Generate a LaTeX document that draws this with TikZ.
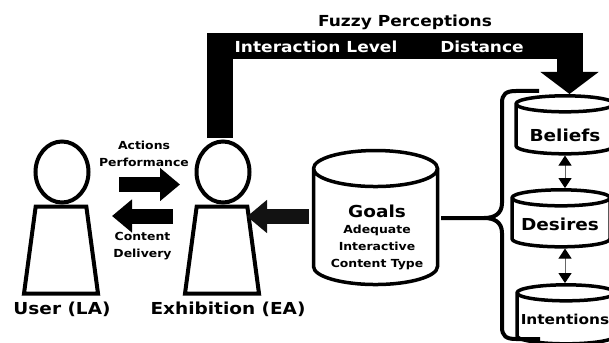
\documentclass[tikz,border=0pt]{standalone}
\usepackage{fontspec}
\setmainfont[FakeStretch=1.12]{DejaVu Sans}
\usetikzlibrary{arrows.meta,shapes.geometric}
\tikzset{
  head/.style={draw,fill=white,ellipse,line width=4pt,inner sep=0pt,minimum width=53pt,minimum height=61pt},
  body/.style={draw,fill=white,trapezium,trapezium stretches=true,trapezium left angle=77,trapezium right angle=77,line width=4pt,inner sep=1pt,minimum width=74pt,minimum height=87pt},
  store/.style={draw,fill=white,cylinder,shape border rotate=90,line width=3.5pt,inner sep=1pt},
  fatarrow/.style={line width=15pt,-{Triangle[length=20pt,width=32pt]}},
  thinarrow/.style={draw=black!60,line width=1pt,{Triangle[length=10pt,width=13pt,black]}-{Triangle[length=10pt,width=13pt,black]}},
  caption/.style={font=\fontsize{16.5}{17}\selectfont\bfseries},
  small/.style={font=\fontsize{11.1}{17}\selectfont\bfseries,align=center}
}
\begin{document}
\begin{tikzpicture}[x=1pt,y=-1pt]
  \useasboundingbox (0,0) rectangle (609,342);
  \clip (0,0) rectangle (609,342);
  \path (61,250) node[body] (userbody) {};
  \path (62,172) node[head] (userhead) {};
  \path (222,250) node[body] (exbody) {};
  \path (223,172) node[head] (exhead) {};
  \path (62,309) node[caption] (userlabel) {User (LA)};
  \path (228,309) node[caption] (exlabel) {Exhibition (EA)};
  \path (375.5,229) node[store,minimum width=124pt,minimum height=134pt,shape aspect=18] (goals) {};
  \path (377,211) node[caption] (goalslabel) {Goals};
  \path (377,247) node[small] (goalstext) {Adequate\\Interactive\\Content Type};
  \path (565,130.5) node[store,minimum width=98pt,minimum height=58pt,shape aspect=8] (beliefs) {};
  \path (565,135) node[caption] (beliefslabel) {Beliefs};
  \path (561,224) node[store,minimum width=98pt,minimum height=57pt,shape aspect=8] (desires) {};
  \path (560,224) node[caption] (desireslabel) {Desires};
  \path (566,320) node[store,minimum width=98pt,minimum height=59pt,shape aspect=8] (intentions) {};
  \path (565,319) node[font=\fontsize{13.7}{14}\selectfont\bfseries] (intentionslabel) {Intentions};
  \coordinate (actionsfrom) at (119,184.5);
  \coordinate (actionsto) at (180,184.5);
  \coordinate (deliveryfrom) at (173,216);
  \coordinate (deliveryto) at (112,216);
  \coordinate (goalsfrom) at (309,216.5);
  \coordinate (goalsto) at (247,216.5);
  \coordinate (perceptfrom) at (220,138);
  \coordinate (perceptto) at (569.5,94);
  \coordinate (bracestem) at (441,218);
  \draw[fatarrow] (actionsfrom)--(actionsto);
  \draw[fatarrow] (deliveryfrom)--(deliveryto);
  \draw[fatarrow,black!93] (goalsfrom)--(goalsto);
  \draw[line width=26pt,-{Triangle[length=22pt,width=57pt]}] (perceptfrom)--(220,46.5)--(569.5,46.5)--(perceptto);
  \draw[thinarrow] (beliefs.south)--(beliefs.south |- desires.north);
  \draw[thinarrow] (beliefs.south |- desires.south)--(beliefs.south |- intentions.north);
  \draw[line width=4pt] (539,91)--(516,91) .. controls (506,91) and (502,94) .. (502,103)--(502,203)
    .. controls (502,214) and (494,218) .. (484,218)--(bracestem);
  \draw[line width=4pt] (484,218) .. controls (494,218) and (502,222) .. (502,233)--(502,327)
    .. controls (502,336) and (506,339) .. (516,339)--(540,339);
  \path (405,22) node[font=\fontsize{15.2}{17}\selectfont\bfseries] (fuzzylabel) {Fuzzy Perceptions};
  \path (316,47) node[font=\fontsize{15.2}{17}\selectfont\bfseries,text=white] (levellabel) {Interaction Level};
  \path (482,47) node[font=\fontsize{15.2}{17}\selectfont\bfseries,text=white] (distlabel) {Distance};
  \path (144,153.5) node[small] (actionslabel) {Actions\\Performance};
  \path (142.5,246.5) node[small] (contentlabel) {Content\\Delivery};
\end{tikzpicture}
\end{document}
